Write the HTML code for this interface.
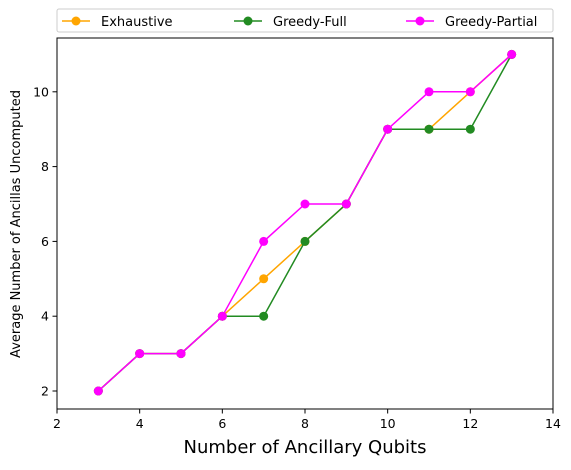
<!DOCTYPE html>
<html><head><meta charset="utf-8"><style>
body{margin:0;background:#fff;font-family:"DejaVu Sans","Liberation Sans",sans-serif;}
</style></head><body>
<svg id="chart" width="571" height="466" xmlns="http://www.w3.org/2000/svg" font-family="DejaVu Sans, Liberation Sans, sans-serif">
<rect x="57" y="38" width="496" height="371" fill="none" stroke="#000" stroke-width="1"/>
<g id="ticks"></g>
<g id="series"></g>
<text x="305" y="453" font-size="18" text-anchor="middle">Number of Ancillary Qubits</text>
<text transform="translate(20,224) rotate(-90)" font-size="13" text-anchor="middle">Average Number of Ancillas Uncomputed</text>
<g>
<rect x="57" y="9" width="496" height="23" fill="#fff" stroke="#ccc" rx="2"/>
<g><line x1="62" y1="21" x2="90" y2="21" stroke="orange" stroke-width="1.5"/><circle cx="76" cy="21" r="4.5" fill="orange"/><text x="101" y="26" font-size="13">Exhaustive</text></g>
<g><line x1="234" y1="21" x2="262" y2="21" stroke="forestgreen" stroke-width="1.5"/><circle cx="248" cy="21" r="4.5" fill="forestgreen"/><text x="273" y="26" font-size="13">Greedy-Full</text></g>
<g><line x1="406" y1="21" x2="434" y2="21" stroke="magenta" stroke-width="1.5"/><circle cx="420" cy="21" r="4.5" fill="magenta"/><text x="445" y="26" font-size="13">Greedy-Partial</text></g>
</g>
</svg>
<script>
const xValues=[3,4,5,6,7,8,9,10,11,12,13];
const exhaustive=[2,3,3,4,5,6,7,9,9,10,11];
const greedyFull=[2,3,3,4,4,6,7,9,9,9,11];
const greedyPartial=[2,3,3,4,6,7,7,9,10,10,11];
const xTicks=[2,4,6,8,10,12,14];
const yTicks=[2,4,6,8,10];
const NS="http://www.w3.org/2000/svg";
function sx(v){return 57+(v-2)*(496/12);}
function sy(v){return 391-(v-2)*37.4;}
const tg=document.getElementById('ticks');
function mk(tag,attrs,parent){const e=document.createElementNS(NS,tag);for(const k in attrs)e.setAttribute(k,attrs[k]);parent.appendChild(e);return e;}
xTicks.forEach(t=>{const g=mk('g',{},tg);


mk('line',{x1:sx(t),x2:sx(t),y1:409,y2:413.5,stroke:'#000'},g);
const tx=mk('text',{x:sx(t),y:428,'font-size':12.5,'text-anchor':'middle'},g);tx.textContent=t;});
yTicks.forEach(t=>{const g=mk('g',{},tg);


mk('line',{x1:52.5,x2:57,y1:sy(t),y2:sy(t),stroke:'#000'},g);
const tx=mk('text',{x:49,y:sy(t)+4.5,'font-size':12.5,'text-anchor':'end'},g);tx.textContent=t;});
const sg=document.getElementById('series');
function drawSeries(vals,color,name){const g=mk('g',{},sg);


mk('polyline',{points:vals.map((v,i)=>sx(xValues[i])+','+sy(v)).join(' '),fill:'none',stroke:color,'stroke-width':1.5},g);
vals.forEach((v,i)=>{const c=mk('circle',{cx:sx(xValues[i]),cy:sy(v),r:4.5,fill:color},g);

});}
drawSeries(exhaustive,'orange','series-exhaustive');
drawSeries(greedyFull,'forestgreen','series-greedy-full');
drawSeries(greedyPartial,'magenta','series-greedy-partial');
</script>
</body></html>
